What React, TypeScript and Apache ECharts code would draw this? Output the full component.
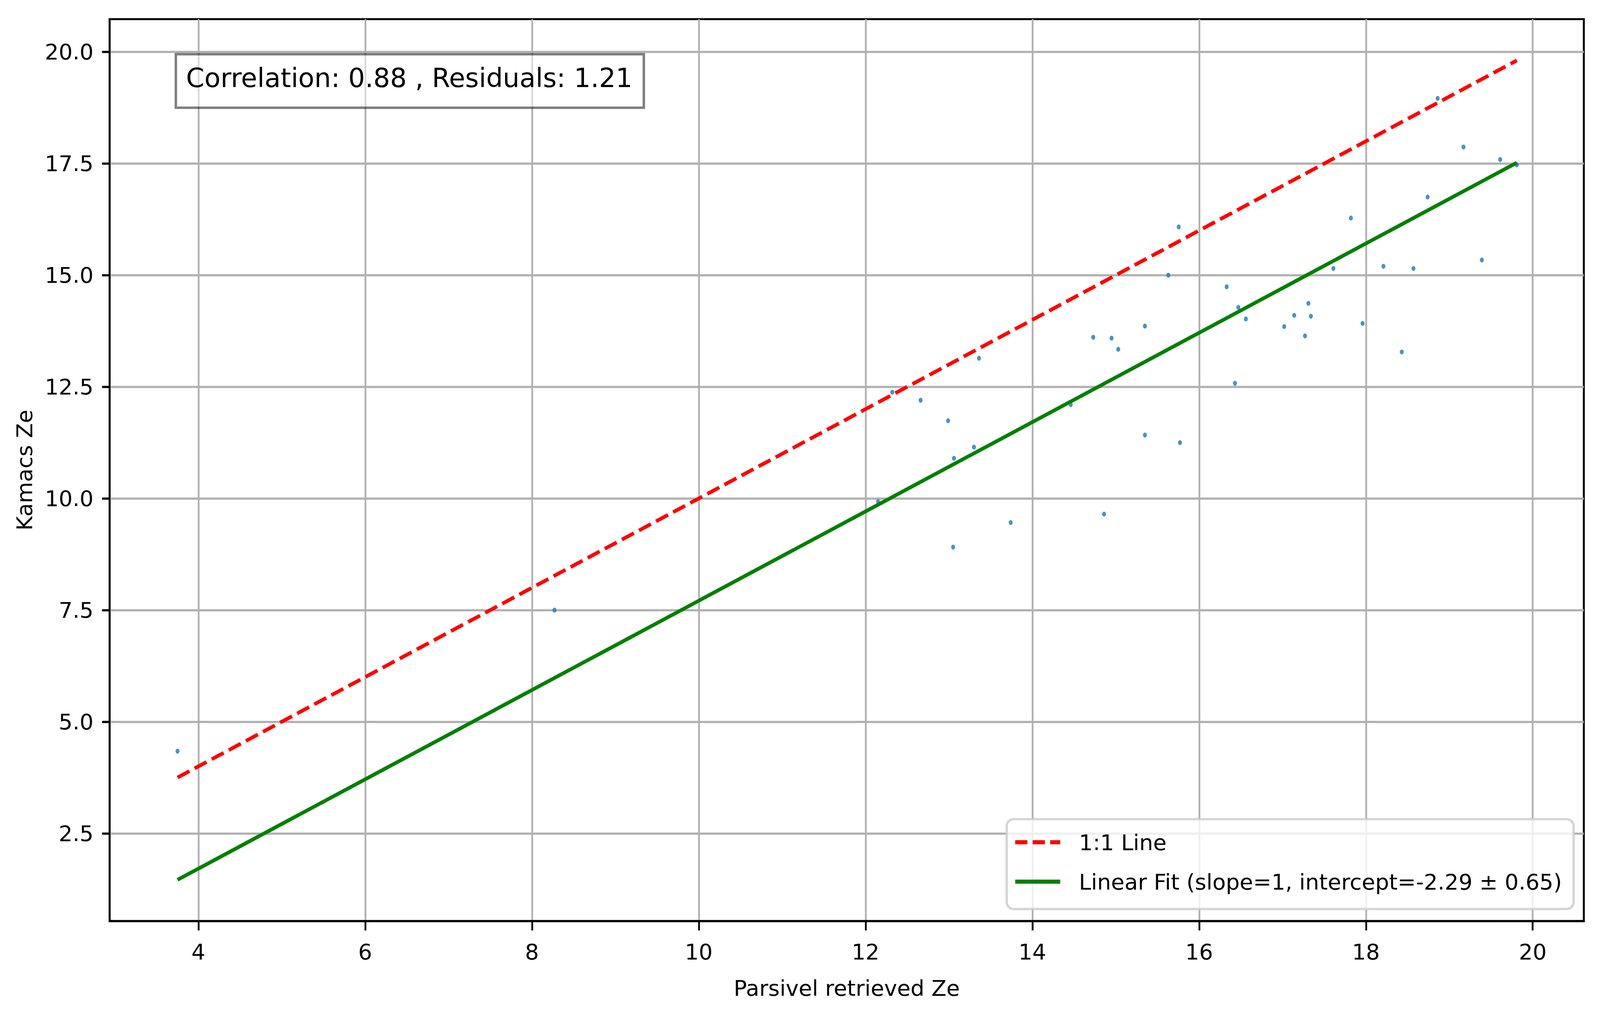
import React, { useEffect, useRef, useState } from "react";
import * as echarts from "echarts";

// ---- data ----
const parsivelZe = [
  3.75, 8.27, 12.15, 12.32, 12.66, 12.99, 13.06, 13.05, 13.3, 13.36, 13.74,
  14.46, 14.73, 14.86, 14.95, 15.03, 15.35, 15.35, 15.63, 15.755, 15.77,
  16.33, 16.43, 16.47, 16.56, 17.02, 17.14, 17.27, 17.31, 17.34, 17.61,
  17.82, 17.96, 18.21, 18.43, 18.57, 18.74, 18.86, 19.17, 19.39, 19.61, 19.81,
];
const kamacsZe = [
  4.34, 7.5, 9.93, 12.38, 12.2, 11.74, 10.9, 8.91, 11.15, 13.14, 9.46,
  12.1, 13.61, 9.65, 13.59, 13.34, 13.86, 11.42, 15.0, 16.08, 11.25,
  14.74, 12.58, 14.28, 14.02, 13.85, 14.1, 13.64, 14.37, 14.08, 15.15,
  16.28, 13.92, 15.2, 13.28, 15.15, 16.75, 18.96, 17.87, 15.34, 17.59, 17.47,
];
const lineX = [3.75, 19.81];
const oneToOneY = [3.75, 19.81];
const fitY = [1.46, 17.52];

const xTicks = [4, 6, 8, 10, 12, 14, 16, 18, 20];
const yTicks = [2.5, 5, 7.5, 10, 12.5, 15, 17.5, 20];

const xRange = [2.936, 20.613];
const yRange = [0.535, 20.734];

const oneToOneName = "1:1 Line";
const fitName = "Linear Fit (slope=1, intercept=-2.29 ± 0.65)";
const statsText = "Correlation: 0.88 , Residuals: 1.21";
const xName = "Parsivel retrieved Ze";
const yName = "Kamacs Ze";

const FONT = "DejaVu Sans";
const DESIGN_W = 5048;
const DESIGN_H = 2620;

export default function App() {
  const ref = useRef<HTMLDivElement>(null);
  const [size] = useState(() => ({
    w: typeof window !== "undefined" ? window.innerWidth || DESIGN_W : DESIGN_W,
    h: typeof window !== "undefined" ? window.innerHeight || DESIGN_H : DESIGN_H,
  }));

  useEffect(() => {
    if (!ref.current) return;
    const chart = echarts.init(ref.current, undefined, { renderer: "svg" });

    const sx = size.w / DESIGN_W;
    const sy = size.h / DESIGN_H;
    const fs = Math.min(sx, sy);
    const ls = Math.sqrt(sx * sy);
    const X = (v: number) => v * sx;
    const Y = (v: number) => v * sy;

    const f = 69 * fs; // tick / label / legend font
    const ft = 83 * fs; // stats box font
    const ftLine = ft * 1.164;

    const scatterData = parsivelZe.map((x, i) => [x, kamacsZe[i]]);
    const oneToOneData = lineX.map((x, i) => [x, oneToOneY[i]]);
    const fitData = lineX.map((x, i) => [x, fitY[i]]);

    // stats box geometry (design px): outer 551..2028 x 135..275
    const titleBorder = 7 * ls;
    const titleInnerH = Y(140) - titleBorder;
    const titlePadTotal = Math.max(0, titleInnerH - ftLine);
    const titleShift = Y(6);
    const legendLine = f;

    const legIconW = X(142);
    const legIconH = Y(10.4);
    const d1 = X(38.5);
    const g1 = X(16.6);
    const redIcon =
      `path://M0 0H${d1}V${legIconH}H0Z` +
      `M${d1 + g1} 0H${2 * d1 + g1}V${legIconH}H${d1 + g1}Z` +
      `M${2 * (d1 + g1)} 0H${legIconW}V${legIconH}H${2 * (d1 + g1)}Z`;
    const greenIcon = `path://M0 0H${legIconW}V${legIconH}H0Z`;

    chart.setOption({
      animation: false,
      backgroundColor: "#ffffff",
      textStyle: { fontFamily: FONT },
      grid: {
        left: X(346),
        right: X(51),
        top: Y(49),
        bottom: Y(261),
        show: true,
        borderColor: "#000000",
        borderWidth: 5.6 * ls,
        backgroundColor: "transparent",
        containLabel: false,
      },
      title: {
        text: statsText,
        left: X(551) + titleBorder / 2,
        top: Y(135) + titleBorder / 2,
        padding: [
          titlePadTotal / 2 - titleShift,
          X(36),
          titlePadTotal / 2 + titleShift + Y(4),
          X(32),
        ],
        borderColor: "rgba(0,0,0,0.5)",
        borderWidth: titleBorder,
        backgroundColor: "rgba(255,255,255,0.5)",
        textStyle: {
          fontFamily: FONT,
          fontSize: ft,
          lineHeight: ftLine,
          fontWeight: "normal",
          color: "#000000",
        },
      },
      legend: {
        data: [
          { name: oneToOneName, icon: redIcon },
          { name: fitName, icon: greenIcon },
        ],
        orient: "vertical",
        left: X(3176),
        top: Y(2098),
        itemWidth: legIconW,
        itemHeight: legIconH,
        symbolKeepAspect: false,
        itemGap: Y(101) - legendLine,
        padding: [Y(59) - legendLine / 2, X(37), Y(70) - legendLine / 2, X(27)],
        backgroundColor: "rgba(255,255,255,0.8)",
        borderColor: "rgba(204,204,204,0.8)",
        borderWidth: 6.9 * ls,
        borderRadius: 20 * ls,
        textStyle: {
          fontFamily: FONT,
          fontSize: f,
          lineHeight: legendLine,
          color: "#000000",
          padding: [0, 0, 0, Math.max(0, X(59) - 5)],
        },
      },
      xAxis: {
        type: "value",
        min: xRange[0],
        max: xRange[1],
        name: xName,
        nameLocation: "middle",
        nameGap: Y(171.5) - f / 2,
        nameTextStyle: { fontFamily: FONT, fontSize: f, lineHeight: f, color: "#000000" },
        axisLine: { show: true, lineStyle: { color: "#000000", width: 5.6 * sy } },
        axisTick: {
          show: true,
          customValues: xTicks,
          length: Y(24),
          inside: false,
          lineStyle: { color: "#000000", width: 5.6 * sx },
        },
        axisLabel: {
          customValues: xTicks,
          fontFamily: FONT,
          fontSize: f,
          lineHeight: f,
          color: "#000000",
          margin: Y(78) - f / 2,
        },
        splitLine: { show: true, lineStyle: { color: "#b0b0b0", width: 5.6 * sx } },
      },
      yAxis: {
        type: "value",
        min: yRange[0],
        max: yRange[1],
        name: yName,
        nameLocation: "middle",
        nameRotate: 90,
        nameGap: X(269.5) - f / 2,
        nameTextStyle: { fontFamily: FONT, fontSize: f, lineHeight: f, color: "#000000" },
        axisLine: { show: true, lineStyle: { color: "#000000", width: 5.6 * sx } },
        axisTick: {
          show: true,
          customValues: yTicks,
          length: X(24),
          inside: false,
          lineStyle: { color: "#000000", width: 5.6 * sy },
        },
        axisLabel: {
          customValues: yTicks,
          fontFamily: FONT,
          fontSize: f,
          lineHeight: f,
          color: "#000000",
          margin: X(51),
          formatter: (v: number) => v.toFixed(1),
        },
        splitLine: { show: true, lineStyle: { color: "#b0b0b0", width: 5.6 * sy } },
      },
      series: [
        {
          type: "scatter",
          name: "data",
          data: scatterData,
          symbol: "circle",
          symbolSize: [X(12.5), Y(12.5)],
          itemStyle: { color: "#1f77b4" },
          z: 2,
        },
        {
          type: "line",
          name: oneToOneName,
          data: oneToOneData,
          symbol: "none",
          showSymbol: false,
          lineStyle: {
            color: "#ff0000",
            width: 10.4 * ls,
            type: [38.5 * ls, 16.6 * ls],
            cap: "butt",
          },
          itemStyle: { color: "#ff0000" },
          z: 3,
        },
        {
          type: "line",
          name: fitName,
          data: fitData,
          symbol: "none",
          showSymbol: false,
          lineStyle: { color: "#008000", width: 10.4 * ls, type: "solid" },
          itemStyle: { color: "#008000" },
          z: 3,
        },
      ],
    });

    return () => {
      chart.dispose();
    };
  }, [size]);

  return (
    <div
      ref={ref}
      style={{ position: "fixed", left: 0, top: 0, width: size.w, height: size.h, background: "#ffffff" }}
    />
  );
}
